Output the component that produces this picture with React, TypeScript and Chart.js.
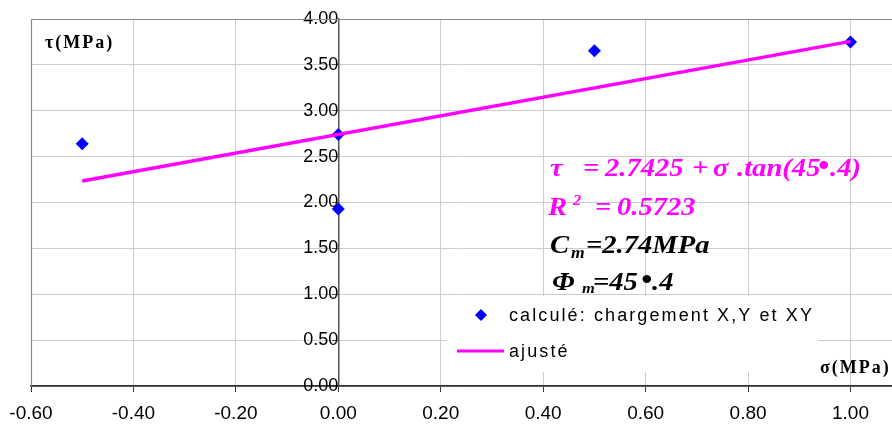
import React, { useEffect, useRef } from 'react';
import { Chart, registerables } from 'chart.js';

Chart.register(...registerables);

// ---- data ----
const measuredSigma = [-0.5, 0.0, 0.0, 0.5, 1.0];
const measuredTau = [2.64, 2.74, 1.93, 3.655, 3.75];
const fitSigma = [-0.5, 1.0];
const fitTau = [2.235, 3.756];
const xTickValues = [-0.6, -0.4, -0.2, 0.0, 0.2, 0.4, 0.6, 0.8, 1.0];
const yTickValues = [0, 0.5, 1.0, 1.5, 2.0, 2.5, 3.0, 3.5, 4.0];
const seriesLabels = ['calculé: chargement X,Y et XY', 'ajusté'];
const yTitle = 'τ(MPa)';
const xTitle = 'σ(MPa)';

const MAGENTA = '#FF00FF';
const BLUE = '#0000FF';
const SERIF = '"Liberation Serif", "Times New Roman", serif';
const SANS = '"Liberation Sans", Arial, sans-serif';

type Seg = [number, number, string, number, string];
// [x, baseline, text, fontSize, color]
const annotationSegs: Seg[] = [
  [550, 176, 'τ', 26, MAGENTA],
  [583, 176, '=', 26, MAGENTA],
  [605, 176, '2.7425', 26, MAGENTA],
  [692, 176, '+', 26, MAGENTA],
  [713, 176, 'σ', 26, MAGENTA],
  [737, 176, '.tan(45', 26, MAGENTA],
  [818, 175, '•', 29, MAGENTA],
  [830, 176, '.4)', 26, MAGENTA],
  [548, 215, 'R', 26, MAGENTA],
  [573, 205, '2', 15, MAGENTA],
  [595, 215, '=', 26, MAGENTA],
  [617, 215, '0.5723', 26, MAGENTA],
  [550, 253, 'C', 26, '#000'],
  [571, 258, 'm', 16, '#000'],
  [586, 253, '=2.74MPa', 26, '#000'],
  [552, 290, 'Φ', 26, '#000'],
  [582, 293, 'm', 15, '#000'],
  [593, 290, '=45', 26, '#000'],
  [641, 289, '•', 29, '#000'],
  [652, 290, '.4', 26, '#000'],
];

function drawSeg(ctx: CanvasRenderingContext2D, s: Seg, sx: number) {
  const [x, y, text, size, color] = s;
  ctx.save();
  ctx.translate(x, y);
  ctx.scale(sx, 1);
  ctx.font = `italic bold ${size}px ${SERIF}`;
  ctx.fillStyle = color;
  ctx.textAlign = 'left';
  ctx.textBaseline = 'alphabetic';
  ctx.fillText(text, 0, 0);
  ctx.restore();
}

const decorPlugin = {
  id: 'decor',
  beforeDraw(chart: any) {
    const ctx = chart.ctx as CanvasRenderingContext2D;
    ctx.save();
    ctx.fillStyle = '#fff';
    ctx.fillRect(0, 0, chart.width, chart.height);
    ctx.restore();
  },
  beforeDatasetsDraw(chart: any) {
    const ctx = chart.ctx as CanvasRenderingContext2D;
    const a = chart.chartArea;
    ctx.save();
    ctx.strokeStyle = '#8a8a8a';
    ctx.lineWidth = 1.2;
    ctx.beginPath();
    ctx.moveTo(a.left + 0.5, a.bottom);
    ctx.lineTo(a.left + 0.5, a.top + 0.5);
    ctx.lineTo(a.right + 5, a.top + 0.5);
    ctx.stroke();
    ctx.restore();
  },
  afterDraw(chart: any) {
    const ctx = chart.ctx as CanvasRenderingContext2D;
    // legend box
    ctx.save();
    ctx.fillStyle = '#fff';
    ctx.fillRect(447, 296, 371, 76);
    // diamond
    const cx = 481, cy = 315, r = 6;
    ctx.fillStyle = BLUE;
    ctx.beginPath();
    ctx.moveTo(cx, cy - r);
    ctx.lineTo(cx + r, cy);
    ctx.lineTo(cx, cy + r);
    ctx.lineTo(cx - r, cy);
    ctx.closePath();
    ctx.fill();
    // line sample
    ctx.strokeStyle = MAGENTA;
    ctx.lineWidth = 3;
    ctx.beginPath();
    ctx.moveTo(457, 351);
    ctx.lineTo(504, 351);
    ctx.stroke();
    ctx.font = `18px ${SANS}`;
    (ctx as any).letterSpacing = '2.1px';
    ctx.fillStyle = '#000';
    ctx.textBaseline = 'alphabetic';
    ctx.textAlign = 'left';
    ctx.fillText(seriesLabels[0], 509, 321);
    ctx.fillText(seriesLabels[1], 509, 357);
    // axis titles
    ctx.font = `bold 18px ${SERIF}`;
    (ctx as any).letterSpacing = '2px';
    ctx.fillText(yTitle, 45, 48);
    ctx.fillText(xTitle, 820, 373);
    (ctx as any).letterSpacing = '0px';
    ctx.restore();
    for (const s of annotationSegs) drawSeg(ctx, s, 1.1);
  },
};

export default function App() {
  const ref = useRef<HTMLCanvasElement>(null);
  useEffect(() => {
    if (!ref.current) return;
    const chart = new Chart(ref.current, {
      type: 'scatter',
      data: {
        datasets: [
          {
            label: seriesLabels[0],
            data: measuredSigma.map((x, i) => ({ x, y: measuredTau[i] })),
            pointStyle: 'rectRot',
            pointRadius: 6.5,
            pointHoverRadius: 6.5,
            pointBackgroundColor: BLUE,
            pointBorderColor: BLUE,
            pointBorderWidth: 0,
            showLine: false,
            order: 1,
          },
          {
            label: seriesLabels[1],
            data: fitSigma.map((x, i) => ({ x, y: fitTau[i] })),
            showLine: true,
            borderColor: MAGENTA,
            borderWidth: 3.5,
            pointRadius: 0,
            order: 0,
          } as any,
        ],
      },
      options: {
        animation: false,
        responsive: false,
        layout: { autoPadding: false, padding: { left: 31, top: 19, right: 0, bottom: 1 } },
        plugins: {
          legend: { display: false },
          tooltip: { enabled: false },
        },
        scales: {
          x: {
            type: 'linear',
            position: 'bottom',
            min: -0.6,
            max: 1.081,
            afterBuildTicks: (s: any) => {
              s.ticks = xTickValues.map((v) => ({ value: v }));
            },
            afterFit: (s: any) => {
              s.height = 39;
              s.paddingLeft = 0;
              s.paddingRight = 0;
            },
            ticks: {
              callback: (v: any) => Number(v).toFixed(2),
              font: { family: SANS, size: 19, lineHeight: 1.2 },
              color: '#000',
              padding: 10,
              maxRotation: 0,
              autoSkip: false,
            },
            grid: { color: '#cccccc', lineWidth: 1, drawTicks: true, tickLength: 6, tickColor: '#333' },
            border: { color: '#333', width: 1.8 },
          },
          y: {
            type: 'linear',
            position: { x: 0 } as any,
            min: 0,
            max: 4,
            afterBuildTicks: (s: any) => {
              s.ticks = yTickValues.map((v) => ({ value: v }));
            },
            afterFit: (s: any) => {
              s.paddingTop = 0;
              s.paddingBottom = 0;
            },
            ticks: {
              callback: (v: any) => Number(v).toFixed(2),
              font: { family: SANS, size: 18, lineHeight: 1.2 },
              color: '#000',
              padding: 9,
            },
            grid: { color: '#cccccc', lineWidth: 1, drawTicks: true, tickLength: 6, tickColor: '#555' },
            border: { color: '#555', width: 1.5 },
          },
        },
      },
      plugins: [decorPlugin],
    } as any);
    return () => chart.destroy();
  }, []);
  return (
    <div style={{ position: 'fixed', left: 0, top: 0, width: 892, height: 426, background: '#fff' }}>
      <canvas ref={ref} width={892} height={426} style={{ display: 'block' }} />
    </div>
  );
}
